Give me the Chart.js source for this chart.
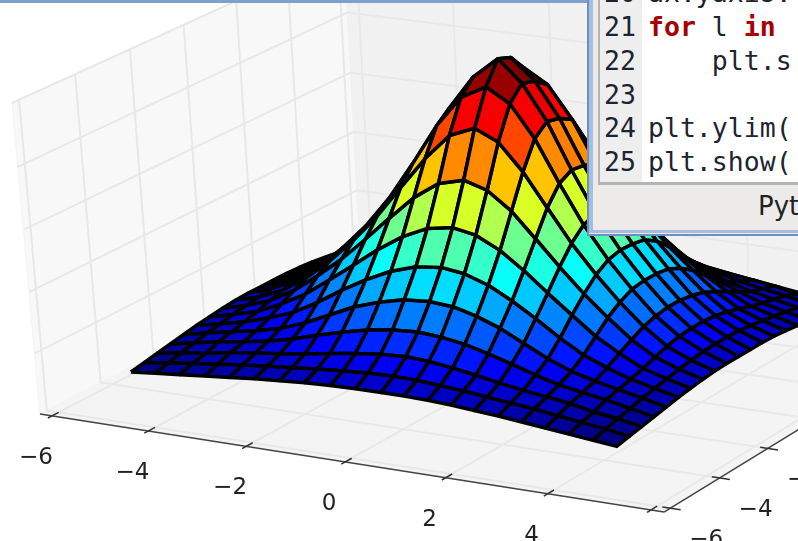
<!DOCTYPE html>
<html>
<head>
<meta charset="utf-8">
<style>
  html, body { margin: 0; padding: 0; background: #fff; overflow: hidden; }
  #stage { position: relative; width: 798px; height: 541px; overflow: hidden; }
  #topbar { position: absolute; left: 0; top: 0; width: 590px; height: 3px; background: #7f9fce; }
  #win { position: absolute; left: 587px; top: -2px; width: 230px; height: 238px; background: #ecebe9;
         border: 2px solid #6d90c4; border-width: 0 0 2px 2px; box-sizing: border-box; overflow: hidden; }
  #edge { position: absolute; left: 0; top: 0; width: 4px; height: 232px; background: #a4bde0; }
  #edge2 { position: absolute; left: 0; top: 232px; width: 230px; height: 3px; background: #a4bde0; }
  #code { position: absolute; left: 9px; top: 0; width: 230px; height: 184px; background: #fff;
          border-bottom: 3px solid #b5b4b0; border-left: 2px solid #b5b4b0; overflow: hidden; }
  #gutter { position: absolute; left: 0; top: 0; width: 42px; height: 184px; background: #efeeee; }
  .ln, .src { position: absolute; font: 26.5px/34px "DejaVu Sans Mono", monospace; color: #1c2430; white-space: pre; }
  .ln { left: 4px; }
  .src { left: 48px; }
  .kw { color: #a80000; font-weight: bold; }
  #status { position: absolute; left: 169px; top: 193px; font: 26px "DejaVu Sans", sans-serif; color: #222; }
</style>
</head>
<body>
<div id="stage">
  <canvas id="surfaceChart" width="798" height="541"></canvas>
  <div id="topbar"></div>
  <div id="win">
    <div id="edge"></div>
    <div id="edge2"></div>
    <div id="code">
      <div id="gutter"></div>
      <div class="ln" style="top:-22px">20</div><div class="src" style="top:-22px">ax.yaxis.</div>
      <div class="ln" style="top:12px">21</div><div class="src" style="top:12px"><span class="kw">for</span> l <span class="kw">in</span></div>
      <div class="ln" style="top:46px">22</div><div class="src" style="top:46px">    plt.s</div>
      <div class="ln" style="top:80px">23</div>
      <div class="ln" style="top:113px">24</div><div class="src" style="top:113px">plt.ylim(</div>
      <div class="ln" style="top:147px">25</div><div class="src" style="top:147px">plt.show(</div>
    </div>
    <div id="status">Python</div>
  </div>
</div>
<script src="https://cdn.jsdelivr.net/npm/chart.js@4"></script>
<script>
// Surface grid
const xValues = [-5, -4.49, -3.98, -3.46, -2.95, -2.44, -1.93, -1.42, -0.9, -0.39, 0.12, 0.58, 1.05, 1.51, 1.97, 2.44, 2.9, 3.36, 3.82, 4.29, 4.75];
const yValues = [-5, -4.5, -4, -3.5, -3, -2.5, -2, -1.5, -1, -0.5, 0, 0.5, 1, 1.5, 2, 2.5, 3, 3.5, 4, 4.5, 4.75];

// Heights, one row per y value, in grid-line units above the floor
const zRows = [
  [.56,.60,.64,.68,.72,.76,.79,.82,.84,.85,.85,.85,.84,.82,.79,.76,.72,.68,.64,.60,.56],
  [.60,.66,.71,.76,.81,.85,.89,.93,.96,.99,1.00,.99,.96,.93,.89,.85,.81,.76,.71,.66,.60],
  [.64,.71,.76,.84,.89,.94,1.00,1.07,1.13,1.18,1.20,1.18,1.13,1.07,1.00,.94,.89,.84,.76,.71,.64],
  [.68,.76,.84,.90,.97,1.07,1.19,1.30,1.40,1.46,1.49,1.46,1.40,1.30,1.19,1.07,.97,.90,.84,.76,.68],
  [.72,.81,.89,.97,1.07,1.22,1.41,1.60,1.74,1.84,1.87,1.84,1.74,1.60,1.41,1.22,1.07,.97,.89,.81,.72],
  [.76,.85,.94,1.07,1.22,1.44,1.70,1.93,2.13,2.26,2.31,2.26,2.13,1.93,1.70,1.44,1.22,1.07,.94,.85,.76],
  [.79,.89,1.00,1.19,1.41,1.70,2.00,2.31,2.58,2.77,2.84,2.77,2.58,2.31,2.00,1.70,1.41,1.19,1.00,.89,.79],
  [.82,.93,1.07,1.30,1.60,1.93,2.31,2.71,3.10,3.38,3.49,3.38,3.10,2.71,2.31,1.93,1.60,1.30,1.07,.93,.82],
  [.84,.96,1.13,1.40,1.74,2.13,2.58,3.10,3.62,4.04,4.21,4.04,3.62,3.10,2.58,2.13,1.74,1.40,1.13,.96,.84],
  [.85,.99,1.18,1.46,1.84,2.26,2.77,3.38,4.04,4.54,4.76,4.54,4.04,3.38,2.77,2.26,1.84,1.46,1.18,.99,.85],
  [.85,1.00,1.20,1.49,1.87,2.31,2.84,3.49,4.21,4.76,5.10,4.76,4.21,3.49,2.84,2.31,1.87,1.49,1.20,1.00,.85],
  [.85,1.00,1.20,1.49,1.87,2.30,2.82,3.46,4.16,4.70,5.02,4.70,4.16,3.46,2.82,2.30,1.87,1.49,1.20,1.00,.85],
  [.85,.99,1.18,1.46,1.84,2.26,2.77,3.38,4.04,4.54,4.76,4.54,4.04,3.38,2.77,2.26,1.84,1.46,1.18,.99,.85],
  [.84,.96,1.13,1.40,1.74,2.13,2.58,3.10,3.62,4.04,4.21,4.04,3.62,3.10,2.58,2.13,1.74,1.40,1.13,.96,.84],
  [.82,.93,1.07,1.30,1.60,1.93,2.31,2.71,3.10,3.38,3.49,3.38,3.10,2.71,2.31,1.93,1.60,1.30,1.07,.93,.82],
  [.79,.89,1.00,1.19,1.41,1.70,2.00,2.31,2.58,2.77,2.84,2.77,2.58,2.31,2.00,1.70,1.41,1.19,1.00,.89,.79],
  [.76,.85,.94,1.07,1.22,1.44,1.70,1.93,2.13,2.26,2.31,2.26,2.13,1.93,1.70,1.44,1.22,1.07,.94,.85,.76],
  [.72,.81,.89,.97,1.07,1.22,1.41,1.60,1.74,1.84,1.87,1.84,1.74,1.60,1.41,1.22,1.07,.97,.89,.81,.72],
  [.68,.76,.84,.90,.97,1.07,1.19,1.30,1.40,1.46,1.49,1.46,1.40,1.30,1.19,1.07,.97,.90,.84,.76,.68],
  [.64,.71,.76,.84,.89,.94,1.00,1.07,1.13,1.18,1.20,1.18,1.13,1.07,1.00,.94,.89,.84,.76,.71,.64],
  [.60,.66,.71,.76,.81,.85,.89,.93,.96,.99,1.00,.99,.96,.93,.89,.85,.81,.76,.71,.66,.60]
];

// Axis ticks
const xTicks = [-6, -4, -2, 0, 2, 4, 6];
const yTicks = [-6, -4, -2, 0, 2, 4, 6];
const zLevels = [1, 2, 3, 4, 5];
const boxLimit = 6.25;
const boxTop = 5;

// Camera fitted to the box corners in the picture
function project(x, y, z) {
    const px = x * 0.96;
    const py = y * 0.96;
    const w = 1 - 0.0035 * px + 0.0055 * py - 0.0067 * z;
    return {
        x: (49.05 * px + 28.32 * py - 5.61 * z + 503.7) / w,
        y: (6.283 * px - 12.3 * py - 62.14 * z + 372.9) / w,
        depth: w
    };
}

function jet(n) {
    const ramp = (c) => Math.round(255 * Math.max(0, Math.min(1, 1.5 - Math.abs(4 * n - c))));
    return `rgb(${ramp(3)}, ${ramp(2)}, ${ramp(1)})`;
}

function polyline(points, color, width) {
    return {
        data: points.map(p => project(p[0], p[1], p[2])),
        borderColor: color,
        borderWidth: width,
        fill: false
    };
}

function polygon(points, fillColor, edgeColor, width) {
    const closed = points.concat([points[0]]);
    return {
        data: closed.map(p => project(p[0], p[1], p[2])),
        backgroundColor: fillColor,
        borderColor: edgeColor,
        borderWidth: width,
        borderJoinStyle: 'round',
        fill: 'shape'
    };
}

// Surface cells, far ones drawn first
const cells = [];
for (let j = 0; j < yValues.length - 1; j++) {
    for (let i = 0; i < xValues.length - 1; i++) {
        const corners = [
            [xValues[i], yValues[j], zRows[j][i]],
            [xValues[i + 1], yValues[j], zRows[j][i + 1]],
            [xValues[i + 1], yValues[j + 1], zRows[j + 1][i + 1]],
            [xValues[i], yValues[j + 1], zRows[j + 1][i]]
        ];
        const zMean = corners.reduce((s, c) => s + c[2], 0) / 4;
        const depth = corners.reduce((s, c) => s + project(c[0], c[1], c[2]).depth, 0) / 4;
        cells.push({ corners, depth, zMean });
    }
}
// Colours are scaled on the cell means, like plot_surface does
const zMin = Math.min(...cells.map(c => c.zMean));
const zMax = Math.max(...cells.map(c => c.zMean));
cells.sort((a, b) => b.depth - a.depth);

// Box panes and grid lines
const L = boxLimit;
const gridColor = '#e8e8e8';
const scene = [
    polygon([[-L, -L, 0], [-L, L, 0], [-L, L, boxTop], [-L, -L, boxTop]], '#f8f8f8', '#f3f3f3', 1),
    polygon([[-L, L, 0], [L, L, 0], [L, L, boxTop], [-L, L, boxTop]], '#f1f1f1', '#f1f1f1', 1),
    polygon([[-L, -L, 0], [L, -L, 0], [L, L, 0], [-L, L, 0]], '#f4f4f4', '#f4f4f4', 1)
];
xTicks.forEach(t => {
    scene.push(polyline([[t, -L, 0], [t, L, 0], [t, L, boxTop]], gridColor, 2));
});
yTicks.forEach(t => {
    scene.push(polyline([[L, t, 0], [-L, t, 0], [-L, t, boxTop]], gridColor, 2));
});
zLevels.forEach(z => {
    scene.push(polyline([[-L, -L, z], [-L, L, z], [L, L, z]], gridColor, 2));
});

// Axis lines and tick marks
scene.push(polyline([[-L, -L, 0], [L, -L, 0]], '#444', 1.5));
scene.push(polyline([[L, -L, 0], [L, L, 0]], '#444', 1.5));
xTicks.forEach(t => scene.push(polyline([[t, -L - 0.15, 0], [t, -L + 0.25, 0]], '#333', 1.5)));
yTicks.forEach(t => scene.push(polyline([[L - 0.15, t, 0], [L + 0.2, t, 0]], '#333', 1.5)));

cells.forEach(c => {
    scene.push(polygon(c.corners, jet((c.zMean - zMin) / (zMax - zMin)), '#000', 3.5));
});

// Tick labels follow the axes
const tickLabels = {
    id: 'tickLabels',
    afterDatasetsDraw(chart) {
        const { ctx, scales } = chart;
        ctx.save();
        ctx.font = '23px "DejaVu Sans"';
        ctx.fillStyle = '#222';
        ctx.textAlign = 'center';
        ctx.textBaseline = 'middle';
        const put = (value, p, dx, dy) => {
            const text = value < 0 ? '\u2212' + Math.abs(value) : String(value);
            ctx.fillText(text, scales.x.getPixelForValue(p.x) + dx, scales.y.getPixelForValue(p.y) + dy);
        };
        xTicks.forEach(t => put(t, project(t, -L, 0), -16, 42));
        yTicks.forEach(t => put(t, project(L, t, 0), 36, 32));
        ctx.restore();
    }
};

new Chart(document.getElementById('surfaceChart'), {
    type: 'line',
    // first dataset is painted last
    data: { datasets: scene.reverse() },
    options: {
        responsive: false,
        animation: false,
        events: [],
        layout: { padding: 0 },
        elements: { point: { radius: 0 }, line: { tension: 0 } },
        plugins: { legend: { display: false }, tooltip: { enabled: false } },
        scales: {
            x: { type: 'linear', display: false, min: 0, max: 798 },
            y: { type: 'linear', display: false, min: 0, max: 541, reverse: true }
        }
    },
    plugins: [tickLabels]
});
</script>
</body>
</html>
